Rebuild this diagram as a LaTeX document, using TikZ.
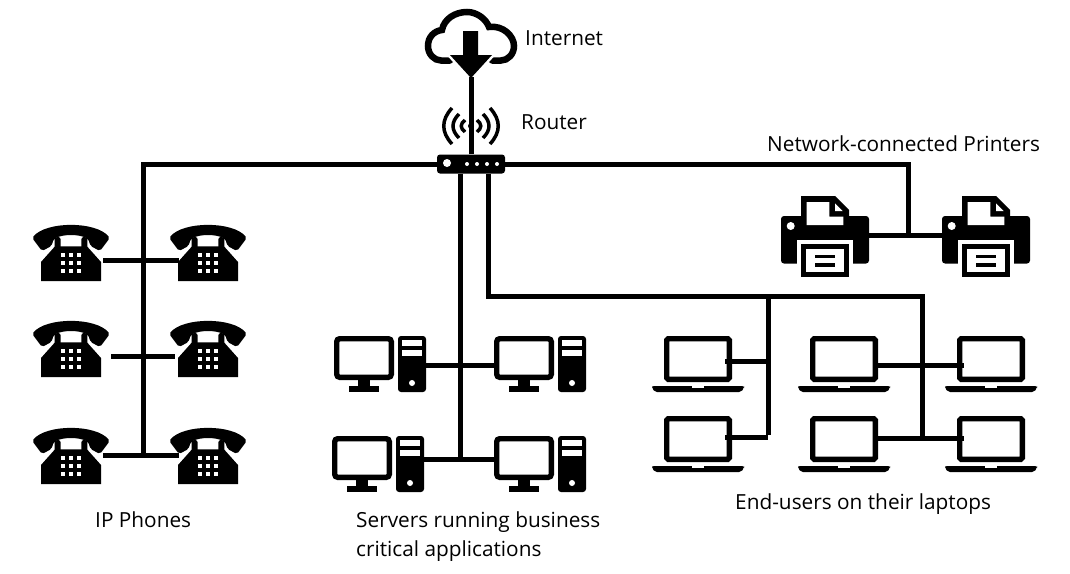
\documentclass[tikz,border=0pt]{standalone}
\usepackage{fontspec}
\setmainfont{Open Sans}
\tikzset{
  wire/.style={line width=5pt},
  label/.style={anchor=west,inner sep=0pt,font=\fontsize{20.8}{29}\selectfont,align=left},
  telephone/.pic={
    \fill[rounded corners=2pt] (-38.8,-15) .. controls (-25,-32) and (25,-32) .. (38.8,-15)
      -- (29,-2) -- (19.5,-7) -- (17.3,-14) .. controls (8,-19) and (-8,-19) .. (-17.3,-14)
      -- (-19.5,-7) -- (-29,-2) -- cycle;
    \fill (-30,28) -- (-30,9) -- (-16,-6.7) -- (16,-6.7) -- (30,9) -- (30,28) -- cycle;
    \foreach \s in {-13.3,13.3} {
      \fill[rounded corners=2.5pt] ({\s-3},-4) rectangle ({\s+3},-16);
    }
    \foreach \u in {-8,0,8} {
      \foreach \v in {2,10,18} {
        \fill[white] ({\u-2},{\v-2}) rectangle ({\u+2},{\v+2});
      }
    }
    \coordinate (-e) at (32,7.5);
    \coordinate (-w) at (-29,7.5);
  },
  computer/.pic={
    \draw[line width=5.4pt,rounded corners=3pt] (-43.3,-25.3) rectangle (11.3,13.3);
    \fill (-22,16) rectangle (-10,22);
    \fill (-31,22) rectangle (-1,28);
    \fill[rounded corners=3pt] (18,-28) rectangle (46,28);
    \fill[white] (22,-24) rectangle (42,-18);
    \fill[white] (22,-14) rectangle (42,-8);
    \fill[white] (32,19) circle (3);
    \coordinate (-e) at (46,1);
    \coordinate (-w) at (-46,1);
  },
  laptop/.pic={
    \draw[line width=5.4pt,rounded corners=1.5pt] (-31.3,-25.3) rectangle (31.3,15.3);
    \fill[rounded corners=2pt] (-46,22) -- (46,22) -- (46,24) -- (43,28) -- (-43,28) -- (-46,24) -- cycle;
    \fill[white] (-6,21.5) rectangle (6,24);
    \coordinate (-e) at (34,0);
    \coordinate (-ie) at (27,0);
    \coordinate (-w) at (-27,0);
  },
  printer/.pic={
    \fill[rounded corners=3pt] (-44,-24) rectangle (44,23.5);
    \fill[white] (-28.3,0) rectangle (28.3,24);
    \fill (-24,-20) -- (-24,-44) -- (10,-44) -- (24,-30) -- (24,-20) -- cycle;
    \fill[white] (-18.3,-38) -- (4.3,-38) -- (4.3,-23.3) -- (18.3,-23.3) -- (18.3,-15) -- (-18.3,-15) -- cycle;
    \fill[white] (10,-36.7) -- (17.7,-29) -- (10,-29) -- cycle;
    \fill[white] (-34.3,-14) circle (4);
    \fill (-24,4) rectangle (24,36.7);
    \fill[white] (-19,9.3) rectangle (19,31.7);
    \fill (-10,15) rectangle (10,18.3);
    \fill (-10,22.7) rectangle (10,26.7);
    \coordinate (-e) at (44,-5);
    \coordinate (-w) at (-44,-5);
  },
  cloudicon/.pic={
    \draw[line width=6.5pt,line cap=round] (-21,24.5) -- (-30,24.5) .. controls (-37,24.5) and (-43,18) .. (-43,10)
      .. controls (-43,1) and (-37,-5) .. (-29,-6) .. controls (-27,-17) and (-16,-24) .. (-4,-24)
      .. controls (6,-24) and (15,-17) .. (18,-9) .. controls (32,-11) and (43,0) .. (43,10)
      .. controls (43,18) and (37,24.5) .. (30,24.5) -- (21,24.5);
    \fill[preaction={draw=white,line width=5pt}] (-8,-5) -- (7,-5) -- (7,19) -- (21,19) -- (0,42) -- (-21,19) -- (-8,19) -- cycle;
    \coordinate (-tip) at (0,41);
  },
  waves/.pic={
    \foreach \s in {1,-1} {
      \draw[line width=3.5pt,xscale=\s] (19,-18) .. controls (30,-6) and (30,6) .. (19,18);
      \draw[line width=3.5pt,xscale=\s] (12,-12) .. controls (20,-4) and (20,4) .. (12,12);
      \draw[line width=3.5pt,xscale=\s] (6,-6) .. controls (11,-2) and (11,2) .. (6,6);
    }
    \fill (0,0) circle (3);
  }
}
\begin{document}
\begin{tikzpicture}[x=1pt,y=-1pt]
  \useasboundingbox (0,0) rectangle (1070,573);
  \coordinate (phonebus) at (143.5,455);
  \coordinate (srvbus) at (460.5,459);
  \coordinate (printbus) at (908.5,235);
  \coordinate (lapturn) at (488,296);
  \coordinate (lapA) at (768,437);
  \coordinate (lapB) at (922,438);
  \coordinate (lapC) at (922,365);
  \foreach \n/\x/\y in {phoneA/71/253,phoneB/208/253,phoneC/71/349,phoneD/208/349,phoneE/71/456,phoneF/208/456} {
    \pic (\n) at (\x,\y) {telephone};
  }
  \foreach \n/\x/\y in {pcA/380/364,pcB/540/364,pcC/378/464,pcD/540/464} {
    \pic (\n) at (\x,\y) {computer};
  }
  \foreach \n/\x/\y in {lapDa/698/364,lapDb/698/444,lapDc/844/364,lapDd/844/444,lapDe/991/364,lapDf/991/444} {
    \pic (\n) at (\x,\y) {laptop};
  }
  \foreach \n/\x in {printerA/825,printerB/986} {
    \pic (\n) at (\x,240) {printer};
  }
  \pic (cloud) at (471,36) {cloudicon};
  \pic (wifi) at (471,126) {waves};
  \node[fill,rounded corners=3pt,minimum width=68pt,minimum height=19pt,inner sep=0pt] (router) at (471,164) {};
  \fill[white] (447,163) circle (4);
  \foreach \x in {467,477,487,497} {
    \fill[white] (\x,164) circle (2);
  }
  \draw[wire] (router.north) -- (cloud-tip);
  \draw[wire] (router.west) -| (phonebus);
  \draw[wire] (router.east) -| (printbus);
  \draw[wire] (srvbus |- router.south) -- (srvbus);
  \draw[wire] (lapturn |- router.south) -- (lapturn) -- (lapB |- lapturn) -- (lapB);
  \draw[wire] (lapA |- lapturn) -- ([yshift=2.5pt]lapA);
  \draw[wire] (phoneA-e) -- (phoneB-w);
  \draw[wire] ([xshift=8pt]phoneC-e) -- ([xshift=-4pt]phoneD-w);
  \draw[wire] (phoneE-e |- phonebus) -- (phoneF-w |- phonebus);
  \draw[wire] (pcA-e) -- (pcB-w);
  \draw[wire] (pcC-e |- srvbus) -- (pcD-w |- srvbus);
  \draw[wire] (printerA-e) -- (printerB-w);
  \draw[wire] (lapDa-ie |- 0,361) -- (768,361);
  \draw[wire] (lapDb-ie |- lapA) -- (lapA);
  \draw[wire] (lapDc-e |- lapC) -- (lapDe-w |- lapC);
  \draw[wire] (lapDd-e |- lapB) -- (lapDf-w |- lapB);
  \node[label] (internet) at (525,38) {Internet};
  \node[label] (routerlabel) at (521,122) {Router};
  \node[label] (printers) at (767,144) {Network-connected Printers};
  \node[label] (phones) at (95,520) {IP Phones};
  \node[label] (servers) at (356,537) {Servers running business\\critical applications};
  \node[label] (users) at (735,504) {End-users on their laptops};
\end{tikzpicture}
\end{document}
